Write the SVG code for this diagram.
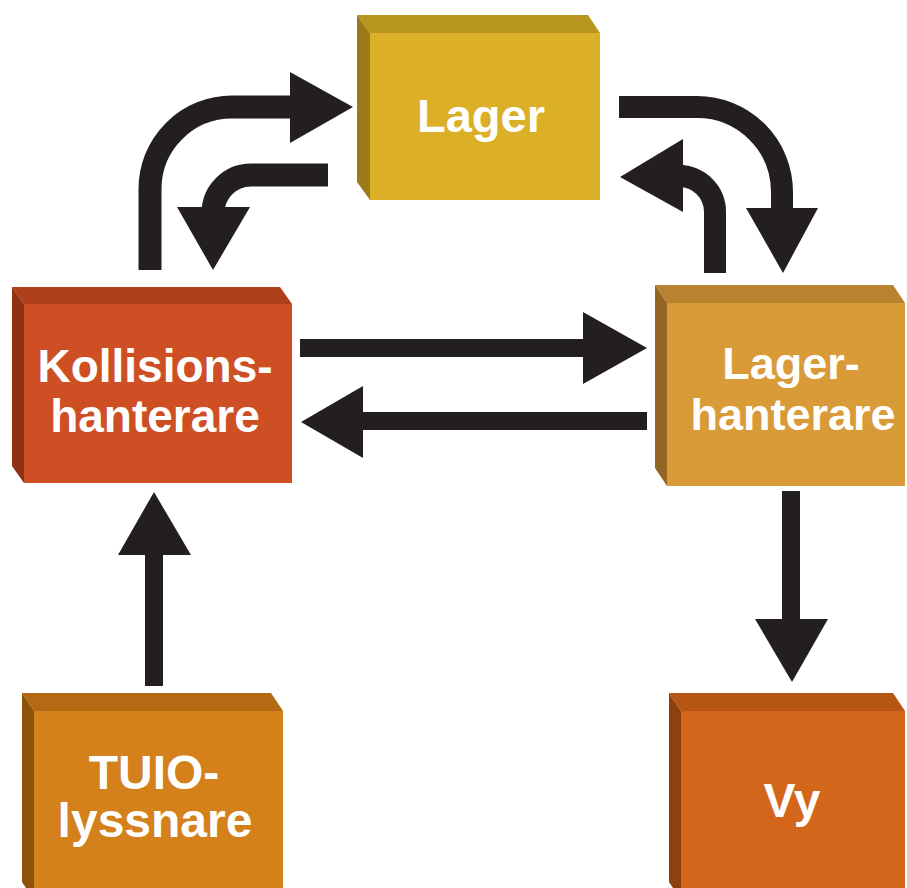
<svg xmlns="http://www.w3.org/2000/svg" width="907" height="888" viewBox="0 0 907 888">
<style>
  .lbl { font-family: "Liberation Sans", Arial, sans-serif; font-weight: bold; fill: #ffffff; text-anchor: middle; }
  .arr { fill: none; stroke: #231f20; }
  .head { fill: #231f20; }
</style>
<rect width="907" height="888" fill="#ffffff"/>

<g id="lager">
  <polygon points="357,15 588,15 600,33 370,33" fill="#b8951f"/>
  <polygon points="357,15 370,33 370,200 357,182" fill="#9b7b18"/>
  <rect x="370" y="33" width="230" height="167" fill="#dbaf27"/>
  <text class="lbl" x="481" y="132" font-size="47">Lager</text>
</g>

<g id="kollisionshanterare">
  <polygon points="12,287 280,287 292,304 24,304" fill="#b03f1b"/>
  <polygon points="12,287 24,304 24,483 12,466" fill="#8d3212"/>
  <rect x="24" y="304" width="268" height="179" fill="#cf4f24"/>
  <text class="lbl" x="155" y="382" font-size="46">Kollisions-</text>
  <text class="lbl" x="155" y="432" font-size="46">hanterare</text>
</g>

<g id="lagerhanterare">
  <polygon points="655,285 893,285 905,303 667,303" fill="#b98230"/>
  <polygon points="655,285 667,303 667,486 655,468" fill="#936522"/>
  <rect x="667" y="303" width="238" height="183" fill="#d99a38"/>
  <text class="lbl" x="791" y="379" font-size="45">Lager-</text>
  <text class="lbl" x="793" y="430" font-size="45">hanterare</text>
</g>

<g id="tuio">
  <polygon points="22,693 271,693 283,711 34,711" fill="#b46a12"/>
  <polygon points="22,693 34,711 34,900 22,882" fill="#8f520a"/>
  <rect x="34" y="711" width="249" height="190" fill="#d4801b"/>
  <text class="lbl" x="154" y="789" font-size="48">TUIO-</text>
  <text class="lbl" x="155" y="837" font-size="48">lyssnare</text>
</g>

<g id="vy">
  <polygon points="669,693 893,693 905,711 681,711" fill="#b55614"/>
  <polygon points="669,693 681,711 681,900 669,882" fill="#8f400c"/>
  <rect x="681" y="711" width="224" height="190" fill="#d3661b"/>
  <text class="lbl" x="792" y="817" font-size="48">Vy</text>
</g>

<g id="connectors">
  <!-- Kollisionshanterare -> Lager -->
  <path class="arr" stroke-width="23" d="M150,270 L150,189 A82,82 0 0 1 232,107 L292,107"/>
  <polygon class="head" points="290,72 353,107 290,143"/>
  <!-- Lager -> Kollisionshanterare -->
  <path class="arr" stroke-width="23" d="M328,175 L251,175 A38,38 0 0 0 213,213 L213,209"/>
  <polygon class="head" points="177,207 250,207 213,270"/>
  <!-- Lager -> Lagerhanterare -->
  <path class="arr" stroke-width="22" d="M619,107 L697,107 A85,85 0 0 1 782,192 L782,210"/>
  <polygon class="head" points="746,208 818,208 783,273"/>
  <!-- Lagerhanterare -> Lager -->
  <path class="arr" stroke-width="22" d="M715,273 L715,212 A36,36 0 0 0 679,176 L685,176"/>
  <polygon class="head" points="683,139 683,212 620,177"/>
  <!-- Kollisionshanterare -> Lagerhanterare -->
  <path class="arr" stroke-width="18" d="M300,348 L585,348"/>
  <polygon class="head" points="583,312 647,348 583,384"/>
  <!-- Lagerhanterare -> Kollisionshanterare -->
  <path class="arr" stroke-width="18" d="M647,421 L361,421"/>
  <polygon class="head" points="363,386 301,422 363,458"/>
  <!-- TUIO -> Kollisionshanterare -->
  <path class="arr" stroke-width="18" d="M154,686 L154,553"/>
  <polygon class="head" points="118,555 191,555 154,492"/>
  <!-- Lagerhanterare -> Vy -->
  <path class="arr" stroke-width="18" d="M791,491 L791,621"/>
  <polygon class="head" points="755,619 828,619 792,682"/>
</g>
</svg>
